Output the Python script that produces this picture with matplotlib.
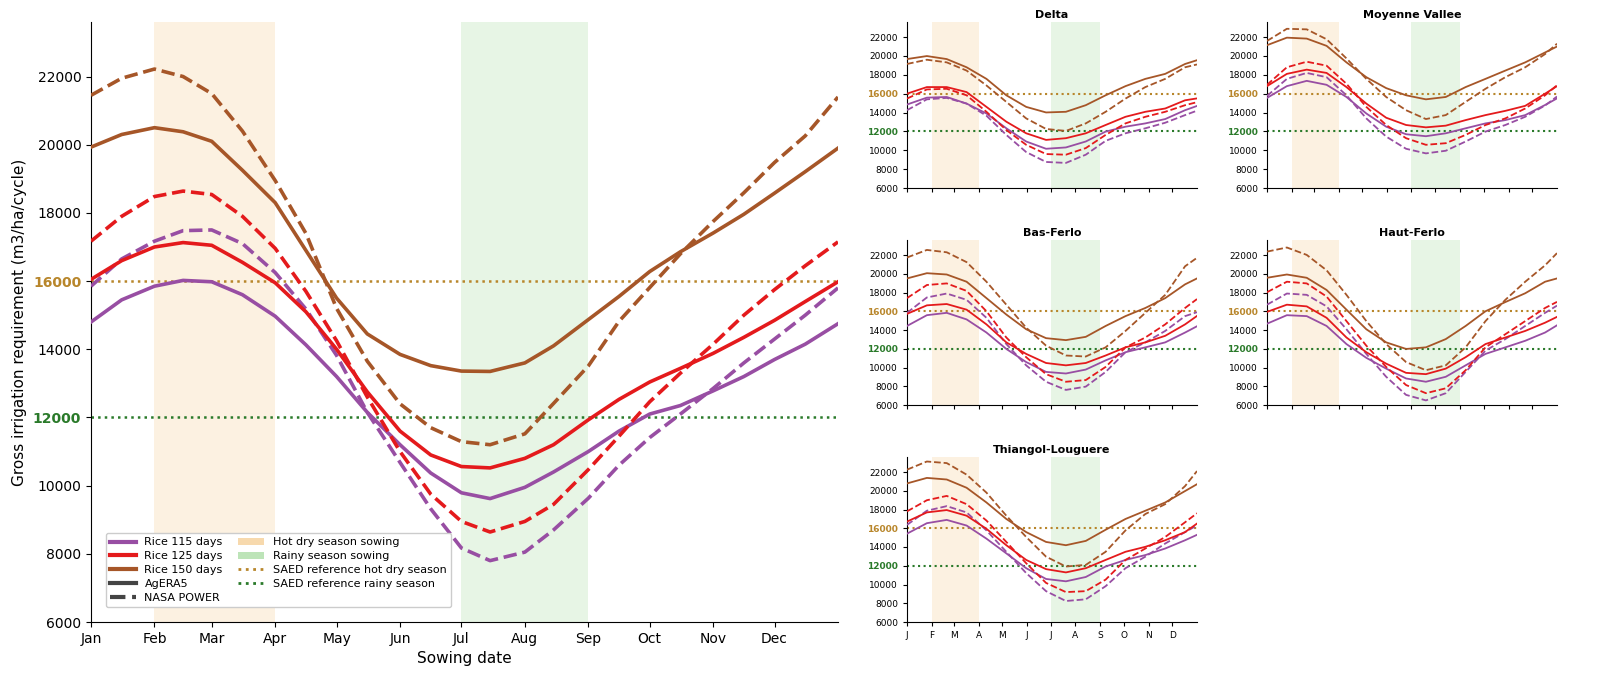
import matplotlib
matplotlib.use("Agg")
import matplotlib.pyplot as plt
from matplotlib.lines import Line2D
from matplotlib.patches import Patch

# ---------------- data ----------------
months_start = [0, 31, 59, 90, 120, 151, 181, 212, 243, 273, 304, 334]
month_labels = ["Jan", "Feb", "Mar", "Apr", "May", "Jun", "Jul", "Aug", "Sep", "Oct", "Nov", "Dec"]
month_letters = ["J", "F", "M", "A", "M", "J", "J", "A", "S", "O", "N", "D"]
yticks = [6000, 8000, 10000, 12000, 14000, 16000, 18000, 20000, 22000]

# main panel (all zones), sowing day of year
main_days = [0, 15, 31, 45, 59, 74, 90, 105, 120, 135, 151, 166, 181, 195, 212,
             226, 243, 258, 273, 288, 304, 319, 334, 349, 365]
main_115_ag = [14800, 15450, 15850, 16020, 15980, 15600, 14970, 14130, 13200, 12150, 11200, 10370, 9790,
               9620, 9950, 10400, 11000, 11600, 12100, 12350, 12780, 13200, 13700, 14150, 14750]
main_125_ag = [16050, 16600, 17000, 17130, 17050, 16550, 15950, 15100, 14000, 12750, 11600, 10900, 10560,
               10520, 10800, 11200, 11930, 12530, 13040, 13440, 13880, 14350, 14850, 15400, 15980]
main_150_ag = [19930, 20300, 20500, 20380, 20100, 19250, 18300, 16900, 15500, 14450, 13850, 13520, 13360,
               13350, 13600, 14100, 14870, 15550, 16280, 16860, 17410, 17960, 18580, 19210, 19900]
main_115_np = [15850, 16650, 17170, 17480, 17500, 17100, 16250, 15180, 13820, 12150, 10680, 9320, 8170,
               7800, 8050, 8700, 9630, 10600, 11410, 12100, 12850, 13600, 14300, 15000, 15800]
main_125_np = [17170, 17900, 18480, 18640, 18540, 17900, 16960, 15700, 14250, 12600, 11000, 9750, 8950,
               8640, 8950, 9450, 10470, 11450, 12460, 13300, 14150, 15000, 15750, 16450, 17150]
main_150_np = [21450, 21950, 22220, 22000, 21500, 20400, 18950, 17400, 15200, 13650, 12400, 11700, 11290,
               11200, 11520, 12410, 13510, 14820, 15810, 16800, 17750, 18590, 19480, 20260, 21400]

# zone panels
zone_days = [0, 25, 50, 75, 100, 125, 150, 175, 200, 225, 250, 275, 300, 325, 350, 365]
zone_names = ["Delta", "Moyenne Vallee", "Bas-Ferlo", "Haut-Ferlo", "Thiangol-Louguere"]

delta_115_ag = [14850, 15580, 15650, 14950, 13900, 12330, 10930, 10160, 10300, 10930, 11980, 12500, 12850, 13310, 14250, 14700]
delta_115_np = [14250, 15400, 15550, 14950, 13660, 11630, 9810, 8760, 8660, 9530, 11000, 11800, 12330, 12920, 13730, 14200]
delta_125_ag = [16000, 16700, 16700, 16170, 14600, 13030, 11800, 11100, 11280, 11800, 12680, 13550, 14080, 14430, 15300, 15500]
delta_125_np = [15480, 16450, 16520, 15830, 14080, 12150, 10580, 9600, 9530, 10230, 11630, 12850, 13550, 14080, 14780, 15100]
delta_150_ag = [19670, 19990, 19670, 18800, 17570, 15830, 14600, 14010, 14080, 14780, 15830, 16800, 17570, 18100, 19150, 19550]
delta_150_np = [19150, 19600, 19320, 18450, 16870, 15130, 13380, 12260, 12050, 12850, 14080, 15480, 16700, 17570, 18800, 19100]

mv_115_ag = [15550, 16800, 17360, 16940, 15650, 13900, 12500, 11700, 11490, 11800, 12330, 12850, 13200, 13730, 14800, 15500]
mv_115_np = [15760, 17570, 18200, 17750, 15830, 13380, 11450, 10160, 9670, 9950, 10930, 11980, 12680, 13550, 14750, 15700]
mv_125_ag = [16800, 18100, 18550, 18200, 16700, 14950, 13450, 12680, 12430, 12610, 13200, 13730, 14180, 14710, 16000, 16800]
mv_125_np = [16940, 18800, 19390, 18970, 17050, 14600, 12680, 11280, 10580, 10750, 11630, 12680, 13380, 14430, 15830, 16900]
mv_150_ag = [21140, 21940, 21840, 21070, 19320, 17750, 16590, 15830, 15400, 15650, 16700, 17570, 18450, 19320, 20370, 21000]
mv_150_np = [21590, 22880, 22820, 21770, 19740, 17570, 15650, 14250, 13310, 13730, 15130, 16520, 17750, 18800, 20200, 21300]

bf_115_ag = [14430, 15580, 15830, 15130, 13730, 11980, 10580, 9530, 9360, 9780, 10760, 11630, 12150, 12680, 13730, 14400]
bf_115_np = [15830, 17470, 17890, 17220, 15300, 12500, 10230, 8480, 7610, 7960, 9530, 11630, 12680, 13900, 15480, 15900]
bf_125_ag = [15720, 16630, 16770, 16170, 14600, 12680, 11450, 10480, 10230, 10480, 11280, 12150, 12680, 13380, 14600, 15500]
bf_125_np = [17400, 18800, 18970, 18170, 16000, 13200, 11100, 9290, 8480, 8660, 10060, 12150, 13200, 14600, 16350, 17300]
bf_150_ag = [19500, 20060, 19920, 19150, 17400, 15650, 14080, 13130, 12920, 13270, 14430, 15480, 16350, 17400, 18870, 19500]
bf_150_np = [21730, 22540, 22290, 21240, 19150, 16700, 14250, 12330, 11280, 11170, 12150, 13900, 15830, 17750, 20800, 21700]

hf_115_ag = [14670, 15580, 15480, 14430, 12500, 11030, 9880, 8830, 8480, 9010, 10230, 11450, 12150, 12850, 13730, 14500]
hf_115_np = [16700, 17890, 17750, 16520, 14080, 11450, 9010, 7080, 6490, 7260, 9530, 11800, 13030, 14430, 15830, 16600]
hf_125_ag = [15930, 16700, 16520, 15300, 13200, 11630, 10410, 9430, 9290, 9880, 11100, 12500, 13200, 13900, 14780, 15400]
hf_125_np = [18030, 19150, 18970, 17570, 14950, 12330, 10060, 8130, 7260, 7780, 9710, 12150, 13550, 14950, 16350, 17000]
hf_150_ag = [19570, 19920, 19570, 18270, 16170, 14080, 12680, 11980, 12150, 13030, 14430, 16000, 16980, 17920, 19150, 19500]
hf_150_np = [22360, 22800, 22010, 20370, 17750, 14950, 12500, 10580, 9710, 10230, 12150, 14950, 17220, 19150, 20900, 22200]

tl_115_ag = [15420, 16540, 16890, 16290, 14890, 13320, 11740, 10590, 10340, 10800, 11920, 12620, 13140, 13840, 14720, 15300]
tl_115_np = [16360, 17870, 18360, 17690, 15770, 13490, 11220, 9290, 8240, 8420, 9820, 11740, 12970, 14370, 15590, 16300]
tl_125_ag = [16710, 17690, 17940, 17340, 15940, 14190, 12620, 11640, 11290, 11740, 12620, 13490, 14020, 14720, 15590, 16500]
tl_125_np = [17800, 18990, 19450, 18570, 16820, 14540, 12270, 10170, 9190, 9290, 10520, 12620, 13840, 15070, 16640, 17600]
tl_150_ag = [20780, 21370, 21200, 20320, 18750, 16990, 15590, 14540, 14190, 14650, 15840, 16990, 17870, 18750, 19970, 20700]
tl_150_np = [22250, 23120, 22950, 21720, 19800, 17340, 15070, 12970, 11920, 12090, 13490, 15770, 17520, 18570, 20500, 22100]

hot_dry_window = (31, 90)
rainy_window = (181, 243)
ref_hot_dry = 16000
ref_rainy = 12000

# ---------------- style ----------------
C115, C125, C150 = "#984ea3", "#e41a1c", "#a65628"
GOLD, GREEN = "#b8862b", "#2a7a2a"
HOT_FILL, RAIN_FILL = "#f5c98a", "#a1d99b"

zones = {
    "Delta": [delta_115_ag, delta_115_np, delta_125_ag, delta_125_np, delta_150_ag, delta_150_np],
    "Moyenne Vallee": [mv_115_ag, mv_115_np, mv_125_ag, mv_125_np, mv_150_ag, mv_150_np],
    "Bas-Ferlo": [bf_115_ag, bf_115_np, bf_125_ag, bf_125_np, bf_150_ag, bf_150_np],
    "Haut-Ferlo": [hf_115_ag, hf_115_np, hf_125_ag, hf_125_np, hf_150_ag, hf_150_np],
    "Thiangol-Louguere": [tl_115_ag, tl_115_np, tl_125_ag, tl_125_np, tl_150_ag, tl_150_np],
}

fig = plt.figure(figsize=(15.97, 6.88), dpi=100)
W, H = 1597.0, 688.0


def rect(l, t, r, b):
    return [l / W, 1 - b / H, (r - l) / W, (b - t) / H]


def decorate(ax, lw_ref, tick_fs):
    ax.axvspan(*hot_dry_window, color=HOT_FILL, alpha=0.25, lw=0, zorder=0)
    ax.axvspan(*rainy_window, color=RAIN_FILL, alpha=0.25, lw=0, zorder=0)
    ax.axhline(ref_hot_dry, color=GOLD, ls=":", lw=lw_ref, zorder=1)
    ax.axhline(ref_rainy, color=GREEN, ls=":", lw=lw_ref, zorder=1)
    ax.set_xlim(0, 365)
    ax.set_ylim(6000, 23600)
    ax.set_yticks(yticks)
    ax.set_yticklabels([str(v) for v in yticks], fontsize=tick_fs)
    for lab in ax.get_yticklabels():
        if lab.get_text() == str(ref_hot_dry):
            lab.set_color(GOLD)
            lab.set_fontweight("bold")
        elif lab.get_text() == str(ref_rainy):
            lab.set_color(GREEN)
            lab.set_fontweight("bold")
    ax.set_xticks(months_start)
    ax.spines["top"].set_visible(False)
    ax.spines["right"].set_visible(False)


# ---------------- main panel ----------------
ax = fig.add_axes(rect(91, 22, 838, 622))
decorate(ax, 1.8, 10)
main_series = [(main_115_ag, main_115_np, C115), (main_125_ag, main_125_np, C125),
               (main_150_ag, main_150_np, C150)]
for ag, npw, c in main_series:
    ax.plot(main_days, ag, color=c, lw=2.6, ls="-", zorder=3)
    ax.plot(main_days, npw, color=c, lw=2.6, ls="--", zorder=3)
ax.set_xticklabels(month_labels, fontsize=10)
ax.tick_params(axis="y", labelsize=10)
ax.set_xlabel("Sowing date", fontsize=11)
ax.set_ylabel("Gross irrigation requirement (m3/ha/cycle)", fontsize=11)

handles = [
    Line2D([], [], color=C115, lw=3, label="Rice 115 days"),
    Line2D([], [], color=C125, lw=3, label="Rice 125 days"),
    Line2D([], [], color=C150, lw=3, label="Rice 150 days"),
    Line2D([], [], color="#444444", lw=3, ls="-", label="AgERA5"),
    Line2D([], [], color="#444444", lw=3, ls="--", label="NASA POWER"),
    Patch(facecolor=HOT_FILL, alpha=0.7, lw=0, label="Hot dry season sowing"),
    Patch(facecolor=RAIN_FILL, alpha=0.7, lw=0, label="Rainy season sowing"),
    Line2D([], [], color=GOLD, lw=2, ls=":", label="SAED reference hot dry season"),
    Line2D([], [], color=GREEN, lw=2, ls=":", label="SAED reference rainy season"),
]
ax.legend(handles=handles, ncol=2, loc="lower left", bbox_to_anchor=(0.012, 0.015),
          fontsize=8, handlelength=2.3, columnspacing=1.4, labelspacing=0.35,
          framealpha=1.0, edgecolor="#cccccc")

# ---------------- zone panels ----------------
panel_rects = {
    "Delta": (907, 22, 1197, 188),
    "Moyenne Vallee": (1267, 22, 1557, 188),
    "Bas-Ferlo": (907, 240, 1197, 405),
    "Haut-Ferlo": (1267, 240, 1557, 405),
    "Thiangol-Louguere": (907, 457, 1197, 622),
}
for name in zone_names:
    sax = fig.add_axes(rect(*panel_rects[name]))
    decorate(sax, 1.5, 6.5)
    s = zones[name]
    for (ag, npw), c in zip([(s[0], s[1]), (s[2], s[3]), (s[4], s[5])], [C115, C125, C150]):
        sax.plot(zone_days, ag, color=c, lw=1.3, ls="-", zorder=3)
        sax.plot(zone_days, npw, color=c, lw=1.3, ls="--", zorder=3)
    sax.set_title(name, fontsize=8, fontweight="bold", pad=3)
    sax.tick_params(axis="both", labelsize=6.5, length=3)
    if name == "Thiangol-Louguere":
        sax.set_xticklabels(month_letters, fontsize=6.5)
    else:
        sax.set_xticklabels([])

fig.savefig("out.png", dpi=100)
